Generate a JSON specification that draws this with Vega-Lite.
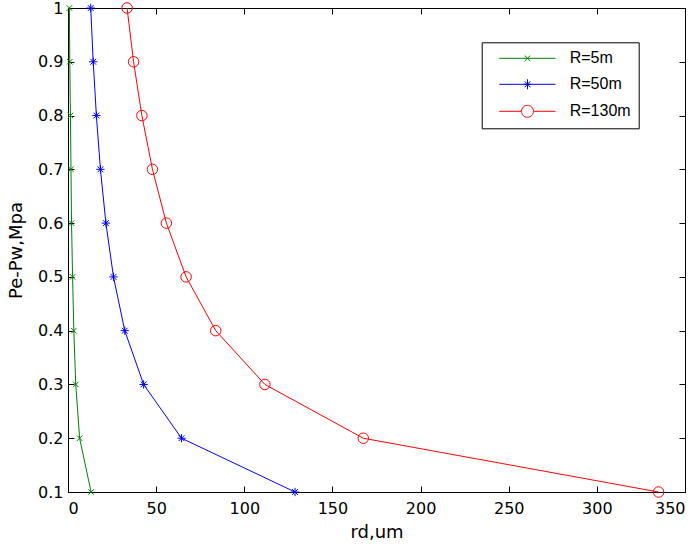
{
  "$schema": "https://vega.github.io/schema/vega-lite/v6.json",
  "width": 617,
  "height": 484,
  "autosize": {"type": "none"},
  "padding": {"left": 68, "top": 8, "right": 15, "bottom": 55},
  "background": "white",
  "data": {
    "values": [
      {"series": "R=5m", "P": 1.0, "rd": 0.8},
      {"series": "R=5m", "P": 0.9, "rd": 1.0},
      {"series": "R=5m", "P": 0.8, "rd": 1.4},
      {"series": "R=5m", "P": 0.7, "rd": 1.7},
      {"series": "R=5m", "P": 0.6, "rd": 2.0},
      {"series": "R=5m", "P": 0.5, "rd": 2.6},
      {"series": "R=5m", "P": 0.4, "rd": 3.3},
      {"series": "R=5m", "P": 0.3, "rd": 4.4},
      {"series": "R=5m", "P": 0.2, "rd": 6.6},
      {"series": "R=5m", "P": 0.1, "rd": 13.1},
      {"series": "R=50m", "P": 1.0, "rd": 12.9},
      {"series": "R=50m", "P": 0.9, "rd": 14.3},
      {"series": "R=50m", "P": 0.8, "rd": 16.1},
      {"series": "R=50m", "P": 0.7, "rd": 18.4},
      {"series": "R=50m", "P": 0.6, "rd": 21.5},
      {"series": "R=50m", "P": 0.5, "rd": 25.8},
      {"series": "R=50m", "P": 0.4, "rd": 32.2},
      {"series": "R=50m", "P": 0.3, "rd": 42.9},
      {"series": "R=50m", "P": 0.2, "rd": 64.4},
      {"series": "R=50m", "P": 0.1, "rd": 128.8},
      {"series": "R=130m", "P": 1.0, "rd": 33.5},
      {"series": "R=130m", "P": 0.9, "rd": 37.2},
      {"series": "R=130m", "P": 0.8, "rd": 41.9},
      {"series": "R=130m", "P": 0.7, "rd": 47.9},
      {"series": "R=130m", "P": 0.6, "rd": 55.8},
      {"series": "R=130m", "P": 0.5, "rd": 67.0},
      {"series": "R=130m", "P": 0.4, "rd": 83.8},
      {"series": "R=130m", "P": 0.3, "rd": 111.7},
      {"series": "R=130m", "P": 0.2, "rd": 167.5},
      {"series": "R=130m", "P": 0.1, "rd": 335.0}
    ]
  },
  "config": {
    "font": "DejaVu Sans",
    "view": {"stroke": "black", "strokeWidth": 1},
    "axis": {
      "grid": false,
      "domainColor": "black",
      "domainWidth": 1,
      "tickColor": "black",
      "tickWidth": 1,
      "tickSize": -6,
      "labelColor": "black",
      "titleColor": "black",
      "labelFont": "DejaVu Sans",
      "titleFont": "DejaVu Sans",
      "labelFontSize": 16,
      "titleFontSize": 18,
      "titleFontWeight": "normal"
    },
    "legend": {
      "orient": "none",
      "legendX": 413.7,
      "legendY": 34.3,
      "title": null,
      "padding": 8,
      "strokeColor": "black",
      "fillColor": "white",
      "labelFont": "Liberation Sans",
      "labelFontSize": 16,
      "labelColor": "black",
      "labelLimit": 200,
      "symbolSize": 4,
      "symbolStrokeWidth": 1,
      "symbolOpacity": 1,
      "symbolFillColor": "transparent",
      "labelOffset": 64,
      "rowPadding": 10
    }
  },
  "layer": [
    {
      "mark": {"type": "line", "strokeWidth": 1},
      "encoding": {
        "x": {
          "field": "rd", "type": "quantitative",
          "scale": {"domain": [0, 350], "nice": false, "zero": false},
          "axis": {"orient": "bottom", "values": [0, 50, 100, 150, 200, 250, 300, 350], "title": "rd,um", "labelPadding": 14, "titlePadding": 7}
        },
        "y": {
          "field": "P", "type": "quantitative",
          "scale": {"domain": [0.1, 1], "nice": false, "zero": false},
          "axis": {"orient": "left", "values": [0.1, 0.2, 0.3, 0.4, 0.5, 0.6, 0.7, 0.8, 0.9, 1], "format": "~g", "title": "Pe-Pw,Mpa", "labelPadding": 11, "titlePadding": 12}
        },
        "color": {
          "field": "series", "type": "nominal",
          "scale": {"domain": ["R=5m", "R=50m", "R=130m"], "range": ["#008000", "#0000ff", "#ff0000"]},
          "legend": null
        },
        "order": {"field": "P", "type": "quantitative"}
      }
    },
    {
      "mark": {"type": "point", "filled": false, "strokeWidth": 1, "opacity": 1},
      "encoding": {
        "x": {
          "field": "rd", "type": "quantitative",
          "axis": {"orient": "top", "values": [0, 50, 100, 150, 200, 250, 300, 350], "labels": false, "title": null}
        },
        "y": {
          "field": "P", "type": "quantitative",
          "axis": {"orient": "right", "values": [0.1, 0.2, 0.3, 0.4, 0.5, 0.6, 0.7, 0.8, 0.9, 1], "labels": false, "title": null}
        },
        "color": {"field": "series", "type": "nominal", "legend": null},
        "shape": {
          "field": "series", "type": "nominal",
          "scale": {"domain": ["R=5m", "R=50m", "R=130m"], "range": ["M-1,-1L1,1M-1,1L1,-1", "M-1,0L1,0M0,-1L0,1M-0.7,-0.7L0.7,0.7M-0.7,0.7L0.7,-0.7", "circle"]},
          "legend": null
        },
        "size": {
          "field": "series", "type": "nominal",
          "scale": {"domain": ["R=5m", "R=50m", "R=130m"], "range": [30, 110, 100]},
          "legend": null
        }
      }
    },
    {
      "mark": {"type": "point", "filled": false, "opacity": 0, "size": 4},
      "encoding": {
        "x": {"field": "rd", "type": "quantitative", "axis": null},
        "y": {"field": "P", "type": "quantitative", "axis": null},
        "stroke": {
          "field": "series", "type": "nominal",
          "scale": {"domain": ["R=5m", "R=50m", "R=130m"], "range": ["#008000", "#0000ff", "#ff0000"]},
          "legend": {"title": null}
        },
        "shape": {
          "field": "series", "type": "nominal",
          "scale": {"domain": ["R=5m", "R=50m", "R=130m"], "range": [
            "M1.5,0L57.8,0M27,-2.8L32.6,2.8M27,2.8L32.6,-2.8",
            "M1.5,0L57.8,0M25.8,0L33.8,0M29.8,-5L29.8,5M27,-3L32.6,3M27,3L32.6,-3",
            "M1.5,0L23.8,0M35.8,0L57.8,0M23.8,0A6,6 0 1,0 35.8,0A6,6 0 1,0 23.8,0"
          ]},
          "legend": {"title": null}
        }
      }
    }
  ],
  "resolve": {
    "axis": {"x": "independent", "y": "independent"},
    "scale": {"shape": "independent", "size": "independent", "stroke": "independent"}
  }
}
